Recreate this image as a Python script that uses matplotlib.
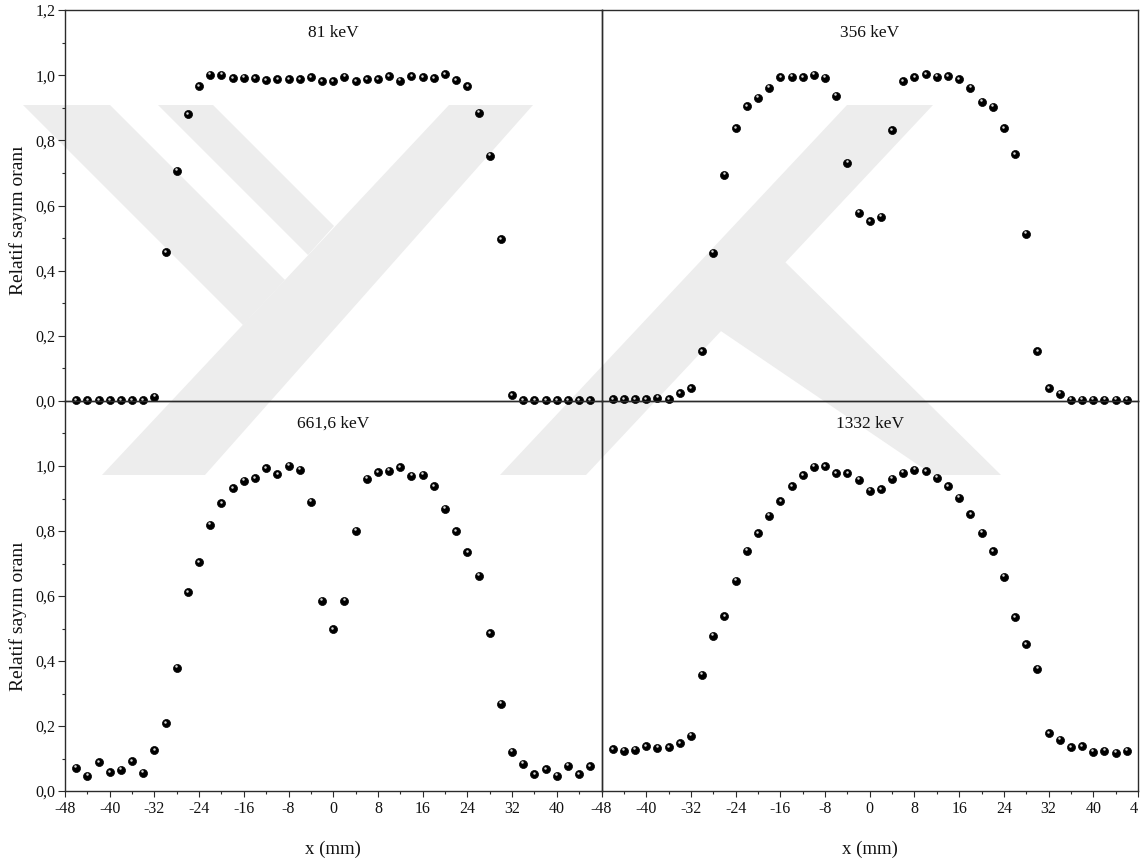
import matplotlib
matplotlib.use("Agg")
import matplotlib.pyplot as plt
from matplotlib.ticker import MultipleLocator, FuncFormatter, FixedLocator
from matplotlib.transforms import offset_copy, Bbox, TransformedBbox
from matplotlib.patches import Polygon

plt.rcParams['font.family'] = ['Liberation Serif', 'DejaVu Serif']

# ---- data ----
x_mm = [-46, -44, -42, -40, -38, -36, -34, -32, -30, -28, -26, -24, -22, -20, -18, -16,
        -14, -12, -10, -8, -6, -4, -2, 0, 2, 4, 6, 8, 10, 12, 14, 16, 18, 20, 22, 24,
        26, 28, 30, 32, 34, 36, 38, 40, 42, 44, 46]

kev81 = [0.002, 0.002, 0.002, 0.002, 0.002, 0.002, 0.002, 0.013, 0.456, 0.706, 0.880, 0.966,
         1.002, 1.001, 0.991, 0.992, 0.991, 0.985, 0.987, 0.987, 0.988, 0.994, 0.982, 0.982,
         0.995, 0.981, 0.987, 0.988, 0.996, 0.983, 0.996, 0.993, 0.991, 1.003, 0.985, 0.966,
         0.884, 0.752, 0.496, 0.018, 0.002, 0.002, 0.002, 0.002, 0.002, 0.002, 0.002]

kev356 = [0.006, 0.006, 0.006, 0.006, 0.010, 0.006, 0.024, 0.039, 0.153, 0.455, 0.694, 0.837,
          0.904, 0.931, 0.962, 0.994, 0.995, 0.994, 1.001, 0.992, 0.936, 0.731, 0.577, 0.552,
          0.565, 0.831, 0.982, 0.993, 1.003, 0.995, 0.997, 0.988, 0.962, 0.919, 0.903, 0.837,
          0.757, 0.514, 0.153, 0.039, 0.022, 0.004, 0.004, 0.004, 0.004, 0.004, 0.004]

kev661 = [0.072, 0.047, 0.089, 0.058, 0.066, 0.092, 0.056, 0.125, 0.209, 0.379, 0.611, 0.704,
          0.820, 0.885, 0.931, 0.954, 0.962, 0.993, 0.974, 1.000, 0.988, 0.890, 0.585, 0.498,
          0.585, 0.801, 0.960, 0.981, 0.986, 0.996, 0.970, 0.973, 0.938, 0.868, 0.799, 0.735,
          0.662, 0.486, 0.268, 0.120, 0.084, 0.051, 0.067, 0.047, 0.077, 0.051, 0.076]

kev1332 = [0.128, 0.124, 0.127, 0.138, 0.133, 0.134, 0.147, 0.170, 0.357, 0.477, 0.538, 0.647,
           0.740, 0.793, 0.847, 0.892, 0.937, 0.971, 0.997, 0.999, 0.977, 0.977, 0.957, 0.923,
           0.928, 0.961, 0.980, 0.988, 0.984, 0.964, 0.938, 0.903, 0.851, 0.795, 0.737, 0.660,
           0.535, 0.451, 0.376, 0.177, 0.157, 0.135, 0.137, 0.121, 0.124, 0.118, 0.123]

panel_titles = ["81 keV", "356 keV", "661,6 keV", "1332 keV"]
x_label = "x (mm)"
y_label = "Relatif sayım oranı"
x_ticks = [-48, -40, -32, -24, -16, -8, 0, 8, 16, 24, 32, 40, 48]

# ---- layout ----
W, H = 1147, 866
fig = plt.figure(figsize=(W / 100, H / 100), dpi=100)

# faint background watermark (decoration only; outline in figure pixels)
wm_shapes = [
    [(23, 105), (110, 105), (285, 280), (243, 325)],
    [(158, 105), (213, 105), (334, 226), (308, 255)],
    [(102, 475), (205, 475), (533, 105), (449, 105)],
    [(500, 475), (586, 475), (933, 105), (847, 105)],
    [(712, 325), (780, 257), (1001, 475), (933, 475)],
]
for shp in wm_shapes:
    fig.patches.append(Polygon([(px / W, 1 - py / H) for px, py in shp], closed=True,
                               transform=fig.transFigure, facecolor='#ededed',
                               edgecolor='none', zorder=-5))

L, M, R = 65 / W, 601.5 / W, 1138 / W
T, C, B = 1 - 10 / H, 1 - 401 / H, 1 - 791 / H

axes = {
    'tl': fig.add_axes([L, C, M - L, T - C]),
    'tr': fig.add_axes([M, C, R - M, T - C]),
    'bl': fig.add_axes([L, B, M - L, C - B]),
    'br': fig.add_axes([M, B, R - M, C - B]),
}
series = {'tl': kev81, 'tr': kev356, 'bl': kev661, 'br': kev1332}
titles = dict(zip(['tl', 'tr', 'bl', 'br'], panel_titles))

spine_col = '#2b2b2b'
comma = FuncFormatter(lambda v, p: f"{v:.1f}".replace('.', ','))
intfmt = FuncFormatter(lambda v, p: f"{int(round(v))}")

for key, ax in axes.items():
    ax.set_xlim(-48, 48)
    ax.set_ylim(0, 1.2)
    ax.patch.set_alpha(0)
    for s in ax.spines.values():
        s.set_color(spine_col)
        s.set_linewidth(1.0)
    y = series[key]
    ax.plot(x_mm, y, linestyle='none', marker='o', markersize=5.8,
            markerfacecolor='black', markeredgecolor='black', markeredgewidth=0.5,
            zorder=3, clip_on=False)
    hl = offset_copy(ax.transData, fig=fig, x=-0.6, y=1.1, units='points')
    ax.plot(x_mm, y, linestyle='none', marker='o', markersize=1.8,
            markerfacecolor='#d8d8d8', markeredgecolor='none', transform=hl,
            zorder=4, clip_on=False)
    ax.text(0.5, 1 - 23 / 391, titles[key], transform=ax.transAxes,
            ha='center', va='center', fontsize=12.5, color='#111111')

    left = key in ('tl', 'bl')
    bottom = key in ('bl', 'br')

    if left:
        ax.yaxis.set_minor_locator(MultipleLocator(0.1))
        if key == 'tl':
            ax.yaxis.set_major_locator(FixedLocator([0, 0.2, 0.4, 0.6, 0.8, 1.0, 1.2]))
        else:
            ax.yaxis.set_major_locator(FixedLocator([0, 0.2, 0.4, 0.6, 0.8, 1.0]))
        ax.yaxis.set_major_formatter(comma)
        ax.tick_params(axis='y', which='major', direction='out', length=5, width=0.8,
                       colors=spine_col, labelsize=11.5, pad=2, labelcolor='#111111')
        ax.tick_params(axis='y', which='minor', direction='out', length=2.5, width=0.8,
                       colors=spine_col)
        ax.set_ylabel(y_label, fontsize=14, color='#111111')
        ax.yaxis.set_label_coords(-0.071, 0.463 if key == 'tl' else 0.449)
    else:
        ax.tick_params(axis='y', which='both', left=False, labelleft=False)

    if bottom:
        ax.xaxis.set_major_locator(FixedLocator(x_ticks if key == 'br' else x_ticks[:-1]))
        ax.xaxis.set_minor_locator(MultipleLocator(4))
        ax.xaxis.set_major_formatter(intfmt)
        ax.tick_params(axis='x', which='major', direction='out', length=4.5, width=0.8,
                       colors=spine_col, labelsize=11.5, pad=3, labelcolor='#111111')
        ax.tick_params(axis='x', which='minor', direction='out', length=2.5, width=0.8,
                       colors=spine_col)
        ax.set_xlabel(x_label, fontsize=13.5, color='#111111')
        ax.xaxis.set_label_coords(0.5, -0.127)
    else:
        ax.tick_params(axis='x', which='both', bottom=False, labelbottom=False)

# the reference image is trimmed just right of the last axis edge
clip = TransformedBbox(Bbox([[0, 0], [1138 / W, 1]]), fig.transFigure)
for t in axes['br'].xaxis.get_major_ticks():
    t.label1.set_clip_box(clip)
    t.label1.set_clip_on(True)

fig.savefig("out.png", dpi=100)
